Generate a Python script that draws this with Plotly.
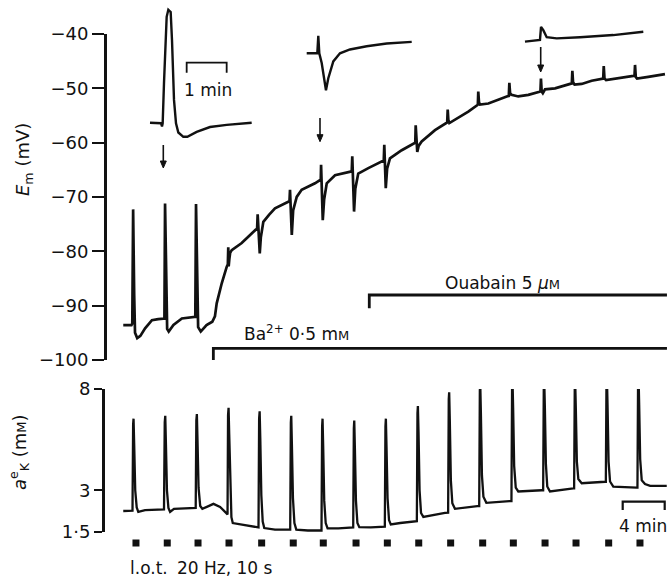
import numpy as np
import plotly.graph_objects as go

W, H = 671, 579          # browser window = figure size (page margin removed below)
OFF = 0
FW, FH = W - OFF, H - OFF

# ------------------------------------------------------------------ data
# stimulation times (min), 20 Hz for 10 s
stim_times = [1.33, 4.31, 7.24, 10.19, 13.30, 16.31, 19.17, 22.29, 25.27,
              28.26, 31.30, 34.35, 37.27, 40.29, 43.24, 46.35, 49.33]
ba_start = 8.70        # min, Ba2+ 0.5 mM applied
ouabain_start = 23.55  # min, ouabain 5 uM applied
record_end = 51.9      # min

# membrane potential trace (min, mV)
em_trace = [
    (0.12, -93.6), (0.90, -93.6), (0.98, -93.3), (1.06, -72.3), (1.16, -88.0),
    (1.24, -95.0), (1.45, -96.0), (1.75, -95.6), (2.20, -94.2), (2.85, -92.7),
    (3.45, -92.5), (3.95, -92.4),
    (4.04, -92.4), (4.10, -71.2), (4.20, -88.0), (4.30, -94.3), (4.45, -94.8),
    (4.90, -93.6), (5.70, -92.4), (6.85, -92.1),
    (6.98, -92.1), (7.05, -71.3), (7.15, -88.0), (7.25, -94.0), (7.50, -94.8),
    (8.05, -93.6), (8.60, -93.0),
    (8.85, -92.0), (9.02, -89.6), (9.50, -85.9), (9.97, -82.9), (10.08, -82.4),
    (10.12, -79.3), (10.16, -82.8), (10.22, -81.5), (10.30, -80.3), (10.45, -79.8),
    (11.40, -78.5), (12.20, -77.0), (12.75, -76.0),
    (12.87, -75.8), (12.92, -73.2), (13.05, -78.5), (13.12, -80.4), (13.22, -77.5),
    (13.46, -74.6), (14.00, -73.3), (14.57, -72.1), (15.84, -70.9),
    (15.95, -70.8), (16.00, -68.7), (16.10, -74.0), (16.17, -77.0), (16.30, -72.5),
    (16.64, -70.0), (17.11, -68.7), (18.38, -67.5), (18.85, -66.9),
    (18.93, -66.8), (18.96, -64.1), (19.05, -70.0), (19.12, -74.3), (19.25, -70.5),
    (19.50, -67.5), (20.29, -66.0), (21.71, -65.4),
    (21.88, -65.3), (21.93, -62.5), (22.02, -68.0), (22.10, -72.7), (22.22, -68.5),
    (22.50, -65.7), (23.46, -64.7), (24.79, -63.5),
    (24.93, -63.3), (24.98, -60.4), (25.06, -65.0), (25.12, -68.4), (25.25, -64.8),
    (25.52, -62.9), (26.64, -61.4), (27.88, -60.1),
    (27.93, -60.0), (27.97, -56.8), (28.04, -59.5), (28.12, -61.7), (28.25, -60.6),
    (28.54, -59.8), (29.81, -57.7), (30.92, -56.4),
    (30.97, -56.3), (31.02, -53.9), (31.08, -55.8), (31.18, -56.4), (31.71, -55.8),
    (32.98, -54.3), (33.85, -53.1),
    (33.89, -53.0), (33.93, -50.6), (34.00, -52.6), (34.10, -53.0), (34.89, -52.8),
    (36.64, -51.5),
    (36.84, -51.4), (36.89, -49.0), (36.96, -50.9), (37.10, -51.2), (37.74, -51.5),
    (38.70, -51.2), (39.75, -50.6),
    (39.85, -50.6), (39.90, -48.2), (39.97, -50.6), (40.08, -50.9), (40.29, -50.2),
    (41.24, -50.0), (42.67, -49.1),
    (42.84, -49.1), (42.89, -46.8), (42.96, -48.9), (43.10, -49.3), (43.78, -49.2),
    (44.73, -48.6), (45.75, -48.2),
    (45.83, -48.2), (45.88, -45.9), (45.95, -48.2), (46.10, -48.5), (46.95, -48.2),
    (48.70, -47.7),
    (48.81, -47.7), (48.86, -45.7), (48.93, -47.9), (49.05, -48.2), (50.12, -47.9),
    (51.71, -47.4),
]

# extracellular K+ activity trace (min, mM)
ak_trace = [
    (0.12, 2.22), (0.95, 2.22),
    (1.00, 2.23), (1.06, 6.0), (1.10, 6.3), (1.16, 5.0), (1.26, 3.0), (1.40, 2.35),
    (1.55, 2.19), (2.20, 2.25), (3.80, 2.28),
    (4.00, 2.28), (4.07, 6.1), (4.12, 6.45), (4.18, 5.1), (4.28, 3.0), (4.42, 2.33),
    (4.58, 2.19), (4.95, 2.30), (5.75, 2.32), (6.90, 2.33),
    (7.02, 2.33), (7.08, 6.2), (7.13, 6.55), (7.19, 5.2), (7.29, 3.1), (7.45, 2.40),
    (7.65, 2.30), (8.08, 2.37), (8.71, 2.48), (9.34, 2.37), (9.75, 2.22), (10.00, 2.12),
    (10.05, 2.10), (10.10, 6.5), (10.15, 6.9), (10.21, 5.5), (10.31, 3.0), (10.42, 2.0),
    (10.55, 1.80), (11.40, 1.75), (12.20, 1.68), (12.83, 1.65),
    (13.00, 1.65), (13.06, 6.3), (13.11, 6.7), (13.17, 5.3), (13.27, 2.8), (13.40, 1.85),
    (13.55, 1.63), (14.57, 1.58), (15.84, 1.58),
    (16.02, 1.58), (16.08, 6.1), (16.12, 6.45), (16.18, 5.0), (16.28, 2.7), (16.42, 1.80),
    (16.60, 1.58), (17.70, 1.55), (18.80, 1.55),
    (19.00, 1.55), (19.06, 5.9), (19.10, 6.3), (19.16, 4.9), (19.26, 2.6), (19.40, 1.80),
    (19.58, 1.62), (20.60, 1.62), (21.90, 1.65),
    (22.02, 1.65), (22.08, 5.8), (22.12, 6.2), (22.18, 4.8), (22.28, 2.6), (22.42, 1.80),
    (22.60, 1.66), (23.70, 1.65), (24.80, 1.68),
    (25.03, 1.68), (25.09, 5.9), (25.13, 6.3), (25.19, 4.9), (25.29, 2.7), (25.43, 1.90),
    (25.60, 1.75), (26.50, 1.80), (27.90, 1.84),
    (28.08, 1.86), (28.14, 6.6), (28.18, 7.0), (28.24, 5.6), (28.34, 3.0), (28.48, 2.15),
    (28.70, 2.01), (30.76, 2.15),
    (31.06, 2.16), (31.12, 7.4), (31.16, 7.8), (31.22, 6.2), (31.32, 3.4), (31.46, 2.50),
    (31.71, 2.30), (33.84, 2.40),
    (34.02, 2.40), (34.08, 7.9), (34.12, 8.3), (34.18, 6.6), (34.28, 3.6), (34.42, 2.75),
    (34.70, 2.52), (36.90, 2.58),
    (37.09, 2.58), (37.15, 8.1), (37.19, 8.55), (37.25, 6.9), (37.35, 4.0), (37.50, 3.10),
    (37.74, 2.95), (39.97, 3.00),
    (40.11, 3.00), (40.17, 8.2), (40.21, 8.6), (40.27, 7.0), (40.37, 4.1), (40.50, 3.15),
    (40.76, 2.95), (42.98, 3.07),
    (43.06, 3.07), (43.12, 8.1), (43.16, 8.5), (43.22, 6.9), (43.32, 4.2), (43.46, 3.45),
    (43.78, 3.28), (46.00, 3.34),
    (46.08, 3.34), (46.14, 8.4), (46.18, 8.8), (46.24, 7.1), (46.34, 4.2), (46.48, 3.35),
    (46.79, 3.14), (49.02, 3.10),
    (49.09, 3.10), (49.15, 8.5), (49.19, 8.9), (49.25, 7.2), (49.35, 4.3), (49.50, 3.40),
    (49.81, 3.25), (50.30, 3.17), (51.88, 3.17),
]

# expanded insets (s from stimulus onset, mV)
inset1 = [(-18, -93.6), (-1.5, -93.7), (0, -94.3), (1.0, -93.7), (3.0, -86.3),
          (5.5, -77.1), (7.0, -74.1), (9.5, -72.8), (13.0, -73.2), (15.0, -78.4),
          (18.0, -89.4), (21.0, -93.7), (24.5, -95.4), (32.0, -96.2), (38.0, -96.2),
          (52.0, -95.3), (72.0, -94.4), (97.0, -94.0), (134.5, -93.6)]
inset2 = [(-17.4, -66.9), (-1.5, -66.9), (0, -63.7), (1.5, -66.9), (5.1, -68.7),
          (11.5, -73.7), (15.0, -71.5), (22.5, -68.4), (32.5, -66.9), (47.5, -66.2),
          (72.6, -65.6), (102.6, -65.1), (140.1, -64.8)]
inset3 = [(-23.3, -50.8), (-0.8, -50.5), (0.8, -48.1), (4.2, -48.7), (9.3, -50.0),
          (24.3, -50.2), (59.3, -50.0), (109.2, -49.6), (154.2, -49.0)]

em_ticks = [-100, -90, -80, -70, -60, -50, -40]
ak_ticks = [1.5, 3, 8]
ak_ticklabels = ["1·5", "3", "8"]

# ------------------------------------------------------------------ layout helpers
T0_PX, PX_PER_MIN = 122.0, 10.5      # main time axis (page px of t=0)
MV_TOP_PX, MV_PX = 34.0, 5.43         # -40 mV at page y=34, px per mV
S_PER_PX = 1.5                        # insets: 1 min = 40 px
FONT = "DejaVu Sans"
INK = "#111111"


def k_scale(a):
    # K+-electrode (Nikolsky-like) display scale
    return np.log(np.asarray(a, dtype=float) + 6.0)


def fx(x):   # page px -> paper fraction
    return (x - OFF) / FW


def fy(y):
    return 1 - (y - OFF) / FH


def unzip(pairs):
    a, b = zip(*pairs)
    return list(a), list(b)


em_t, em_v = unzip(em_trace)
ak_t, ak_v = unzip(ak_trace)

fig = go.Figure()
fig.add_trace(go.Scatter(x=em_t, y=em_v, mode="lines", line=dict(color=INK, width=2.7),
                         xaxis="x", yaxis="y", hoverinfo="skip"))
fig.add_trace(go.Scatter(x=ak_t, y=k_scale(ak_v), mode="lines",
                         line=dict(color=INK, width=2.3),
                         xaxis="x", yaxis="y2", hoverinfo="skip"))
fig.add_trace(go.Scatter(x=stim_times, y=[0] * len(stim_times), mode="markers",
                         marker=dict(symbol="square", size=7, color=INK),
                         xaxis="x", yaxis="y3", hoverinfo="skip"))

insets = [(inset1, 162.0, 122.7, -93.6),
          (inset2, 318.3, 53.3, -66.9),
          (inset3, 540.5, 40.5, -50.6)]
layout_axes = {}
for i, (data, x_stim, y_base, v_base) in enumerate(insets):
    n = i + 4
    s, v = unzip(data)
    fig.add_trace(go.Scatter(x=s, y=v, mode="lines", line=dict(color=INK, width=2.4),
                             xaxis=f"x{n}", yaxis=f"y{n}", hoverinfo="skip"))
    layout_axes[f"xaxis{n}"] = dict(domain=[0, 1], anchor=f"y{n}", visible=False,
                                    range=[(OFF - x_stim) * S_PER_PX,
                                           (OFF + FW - x_stim) * S_PER_PX])
    layout_axes[f"yaxis{n}"] = dict(domain=[0, 1], anchor=f"x{n}", visible=False,
                                    range=[v_base - (OFF + FH - y_base) / MV_PX,
                                           v_base - (OFF - y_base) / MV_PX])

axis_common = dict(showline=True, linecolor=INK, linewidth=2.5, ticks="outside",
                   tickcolor=INK, tickwidth=2, showgrid=False, zeroline=False,
                   automargin=False,
                   tickfont=dict(family=FONT, size=18, color=INK), fixedrange=True)

em_bottom_px = MV_TOP_PX + 60 * MV_PX
fig.update_layout(
    width=FW, height=FH, margin=dict(l=0, r=0, t=0, b=0, pad=0), autosize=False,
    paper_bgcolor="white", plot_bgcolor="rgba(0,0,0,0)", showlegend=False,
    font=dict(family=FONT, size=18, color=INK),
    xaxis=dict(domain=[0, 1], visible=False, fixedrange=True, automargin=False,
               range=[(OFF - T0_PX) / PX_PER_MIN, (OFF + FW - T0_PX) / PX_PER_MIN]),
    yaxis=dict(axis_common, domain=[fy(em_bottom_px), fy(MV_TOP_PX)],
               range=[-100, -40], anchor="free", position=fx(105), ticklen=12,
               tickvals=em_ticks, ticktext=[f"\u2212{abs(v)}" for v in em_ticks]),
    yaxis2=dict(axis_common, domain=[fy(532), fy(389)],
                range=[float(k_scale(1.5)), float(k_scale(8))], anchor="free",
                position=fx(103), ticklen=8,
                tickvals=list(k_scale(ak_ticks)), ticktext=ak_ticklabels),
    yaxis3=dict(domain=[fy(558), fy(528)], range=[-1, 1], visible=False, anchor="x"),
    **layout_axes,
)

# ------------------------------------------------------------------ bars, arrows, labels
blk = dict(color=INK, width=2.8)
shapes = []
# Ba2+ bar
y_bar, y_tick = fy(348.3), fy(360)
shapes.append(dict(type="path", xref="x", yref="paper", line=blk,
                   path=f"M {ba_start},{y_tick} L {ba_start},{y_bar} L {record_end},{y_bar}"))
# ouabain bar
y_bar, y_tick = fy(295), fy(308.3)
shapes.append(dict(type="path", xref="x", yref="paper", line=blk,
                   path=f"M {ouabain_start},{y_tick} L {ouabain_start},{y_bar} L {record_end},{y_bar}"))
# 4 min scale bar
x0 = (622.7 - T0_PX) / PX_PER_MIN
y_bar, y_tick = fy(501.7), fy(510)
shapes.append(dict(type="path", xref="x", yref="paper", line=dict(color=INK, width=2.2),
                   path=f"M {x0},{y_tick} L {x0},{y_bar} L {x0 + 4},{y_bar} L {x0 + 4},{y_tick}"))
# 1 min scale bar (inset time scale, 60 s)
y_bar, y_tick = fy(62.7), fy(72.7)
shapes.append(dict(type="path", xref="x4", yref="paper", line=dict(color=INK, width=1.8),
                   path=f"M 37,{y_tick} L 37,{y_bar} L 97,{y_bar} L 97,{y_tick}"))
# arrows linking insets to the trace
for x, y_tail, y_head in [(163.3, 145, 168), (320, 118, 141.7), (540.7, 47, 72)]:
    shapes.append(dict(type="line", xref="paper", yref="paper",
                       x0=fx(x), x1=fx(x), y0=fy(y_tail), y1=fy(y_head - 5),
                       line=dict(color=INK, width=1.6)))
    shapes.append(dict(type="path", xref="paper", yref="paper", fillcolor=INK,
                       line=dict(color=INK, width=1),
                       path=(f"M {fx(x - 3)},{fy(y_head - 7)} L {fx(x + 3)},{fy(y_head - 7)} "
                             f"L {fx(x)},{fy(y_head)} Z")))
fig.update_layout(shapes=shapes)

small_M = "<span style='font-size:13px'>M</span>"
ann = []


def text(t, x, y, size=17, xanchor="center", angle=0):
    ann.append(dict(text=t, x=fx(x), y=fy(y), xref="paper", yref="paper", showarrow=False,
                    xanchor=xanchor, yanchor="middle", textangle=angle,
                    font=dict(family=FONT, size=size, color=INK)))


text("<i>E</i><sub>m</sub> (mV)", 24, 160, size=18, angle=-90)
text(f"<i>a</i><sup>e</sup><sub>K</sub> (m{small_M})", 19, 452, size=18, angle=-90)
text("1 min", 207.5, 90, size=17)
text("4 min", 643, 526, size=17)
text(f"Ba<sup>2+</sup> 0·5 m{small_M}", 242, 333, size=17, xanchor="left")
text(f"Ouabain 5 <i>μ</i>{small_M}", 443, 283, size=17, xanchor="left")
text("l.o.t.", 128, 568, size=17, xanchor="left")
text("20 Hz, 10 s", 175, 568, size=17, xanchor="left")

fig.update_layout(annotations=ann)
fig.write_html(
    "out.html",
    config={"displayModeBar": False, "staticPlot": True},
    post_script="document.body.style.margin='0';document.body.style.overflow='hidden';",
)
